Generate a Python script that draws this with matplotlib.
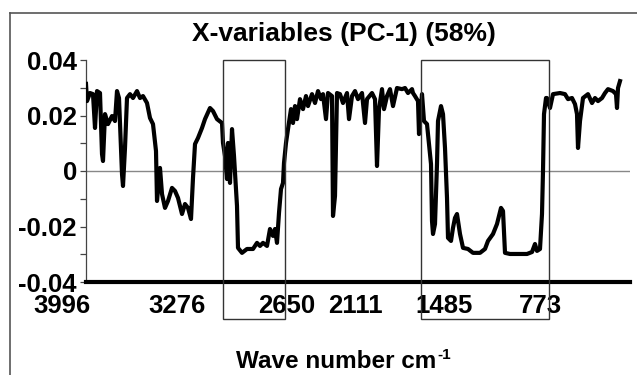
import matplotlib
matplotlib.use("Agg")
import matplotlib.pyplot as plt
from matplotlib.patches import Rectangle
from matplotlib.lines import Line2D
import matplotlib.transforms as mtransforms

plt.rcParams['font.family'] = ['Liberation Sans', 'DejaVu Sans']

# ---- data (variable index along spectrum, PC-1 loading) ----
var_index = [0, 1, 4, 7, 9, 11, 14, 16, 17, 19, 22, 26, 29, 31, 33, 36, 37, 39, 41, 44,
             47, 51, 54, 57, 61, 64, 67, 70, 71, 74, 76, 79, 82, 86, 89, 92, 96, 99, 102, 105,
             107, 109, 112, 116, 119, 124, 127, 131, 136, 137, 139, 141, 142, 144, 146, 148, 149, 151, 152, 156,
             161, 167, 171, 174, 177, 181, 184, 187, 189, 191, 193, 195, 197, 198, 200, 202, 205, 207, 209, 211,
             214, 217, 220, 222, 226, 229, 232, 235, 237, 240, 242, 246, 247, 249, 251, 254, 257, 261, 263, 266,
             269, 272, 276, 279, 281, 286, 289, 291, 293, 296, 298, 301, 304, 307, 311, 316, 319, 322, 326, 327,
             329, 332, 333, 336, 338, 341, 342, 345, 346, 347, 349, 351, 352, 355, 357, 359, 361, 362, 365, 367,
             369, 371, 374, 377, 382, 387, 394, 399, 402, 407, 411, 415, 417, 419, 424, 441, 446, 449, 451, 454,
             456, 457, 458, 460, 461, 464, 467, 474, 479, 482, 486, 489, 491, 492, 494, 497, 502, 506, 509, 512,
             516, 519, 522, 527, 530, 531, 532, 534]
loading = [0.0314, 0.0252, 0.0281, 0.0277, 0.0155, 0.0288, 0.0281, 0.0061, 0.0036, 0.0205,
           0.0169, 0.0198, 0.0180, 0.0288, 0.0263, -0.0011, -0.0054, 0.0083, 0.0263, 0.0277,
           0.0263, 0.0288, 0.0263, 0.0270, 0.0245, 0.0191, 0.0169, 0.0072, -0.0108, 0.0011,
           -0.0083, -0.0133, -0.0108, -0.0061, -0.0072, -0.0097, -0.0155, -0.0119, -0.0133, -0.0173,
           -0.0025, 0.0097, 0.0119, 0.0155, 0.0187, 0.0227, 0.0216, 0.0187, 0.0173, 0.0101,
           0.0054, -0.0029, 0.0101, -0.0043, 0.0151, 0.0054, -0.0007, -0.0126, -0.0277, -0.0295,
           -0.0281, -0.0281, -0.0259, -0.0270, -0.0259, -0.0270, -0.0209, -0.0234, -0.0209, -0.0259,
           -0.0151, -0.0065, -0.0043, 0.0029, 0.0101, 0.0151, 0.0223, 0.0173, 0.0234, 0.0187,
           0.0259, 0.0223, 0.0270, 0.0234, 0.0277, 0.0245, 0.0288, 0.0259, 0.0277, 0.0187,
           0.0281, 0.0270, -0.0162, -0.0090, 0.0281, 0.0277, 0.0245, 0.0281, 0.0187, 0.0270,
           0.0288, 0.0259, 0.0281, 0.0173, 0.0259, 0.0281, 0.0259, 0.0018, 0.0223, 0.0295,
           0.0223, 0.0270, 0.0295, 0.0234, 0.0299, 0.0295, 0.0299, 0.0281, 0.0295, 0.0281,
           0.0270, 0.0252, 0.0133, 0.0277, 0.0180, 0.0169, 0.0133, 0.0025, -0.0180, -0.0227,
           -0.0191, 0.0025, 0.0180, 0.0234, 0.0205, 0.0083, -0.0097, -0.0241, -0.0252, -0.0205,
           -0.0169, -0.0155, -0.0227, -0.0277, -0.0281, -0.0295, -0.0295, -0.0281, -0.0252, -0.0227,
           -0.0191, -0.0133, -0.0144, -0.0295, -0.0299, -0.0299, -0.0292, -0.0263, -0.0288, -0.0281,
           -0.0155, 0.0, 0.0205, 0.0263, 0.0263, 0.0227, 0.0277, 0.0281, 0.0277, 0.0259,
           0.0263, 0.0241, 0.0205, 0.0083, 0.0180, 0.0263, 0.0277, 0.0245, 0.0263, 0.0252,
           0.0263, 0.0281, 0.0295, 0.0288, 0.0277, 0.0227, 0.0299, 0.0324]

tick_labels = ["3996", "3276", "2650", "2111", "1485", "773"]
tick_label_pos = [-24, 91, 201, 269, 358, 454]
y_tick_values = [-0.04, -0.02, 0, 0.02, 0.04]
y_tick_labels = ["-0.04", "-0.02", "0", "0.02", "0.04"]
# highlighted regions (variable index ranges)
box_regions = [(137, 199), (335, 463)]

title = "X-variables (PC-1) (58%)"
xlabel_main = "Wave number cm"
xlabel_sup = "-1"

# ---- figure ----
W, H = 637, 375
fig = plt.figure(figsize=(W / 100, H / 100), dpi=100)
fig.patch.set_facecolor("white")

# outer frame (left and top edges visible)
fig.add_artist(Line2D([10 / W, 10 / W], [0, 1 - 13 / H], transform=fig.transFigure,
                      color="#555555", lw=1.2))
fig.add_artist(Line2D([10 / W, 1.0], [1 - 13 / H, 1 - 13 / H], transform=fig.transFigure,
                      color="#555555", lw=1.2))

ax_l, ax_r = 86 / W, 630 / W
ax_t, ax_b = 1 - 60 / H, 1 - 282 / H
ax = fig.add_axes([ax_l, ax_b, ax_r - ax_l, ax_t - ax_b])
ax.set_xlim(0, 544)
ax.set_ylim(-0.04, 0.04)

ax.plot(var_index, loading, color="black", lw=3.0, solid_joinstyle="round", zorder=3)
ax.axhline(0, color="#888888", lw=1.0, zorder=2)

for sp in ["top", "right"]:
    ax.spines[sp].set_visible(False)
ax.spines["left"].set_color("#444444")
ax.spines["left"].set_linewidth(0.9)
ax.spines["bottom"].set_color("black")
ax.spines["bottom"].set_linewidth(3.0)

ax.set_yticks(y_tick_values)
ax.set_yticklabels(y_tick_labels, fontsize=18.5, fontweight="bold")
ax.set_yticks([-0.03, -0.01, 0.01, 0.03], minor=True)
ax.tick_params(axis="y", which="both", direction="out", length=4.5, width=0.9,
               color="#444444", pad=2)
ax.set_xticks([])

trans = mtransforms.blended_transform_factory(ax.transData, ax.transAxes)
for pos, lab in zip(tick_label_pos, tick_labels):
    ax.text(pos, -0.108, lab, transform=trans, ha="center", va="center",
            fontsize=18.5, fontweight="bold", clip_on=False)

# highlight boxes
bottom_y = -0.0533
for x0, x1 in box_regions:
    ax.add_patch(Rectangle((x0, bottom_y), x1 - x0, 0.04 - bottom_y, fill=False,
                           edgecolor="#333333", lw=1.0, clip_on=False, zorder=4))

fig.text(344 / W, 1 - 34 / H, title, ha="center", va="center",
         fontsize=19, fontweight="bold")
fig.text(436 / W, 1 - 362 / H, xlabel_main, ha="right", va="center",
         fontsize=17.5, fontweight="bold")
fig.text(437 / W, 1 - 355 / H, xlabel_sup, ha="left", va="center",
         fontsize=11, fontweight="bold")

fig.savefig("out.png", dpi=100, facecolor="white")
